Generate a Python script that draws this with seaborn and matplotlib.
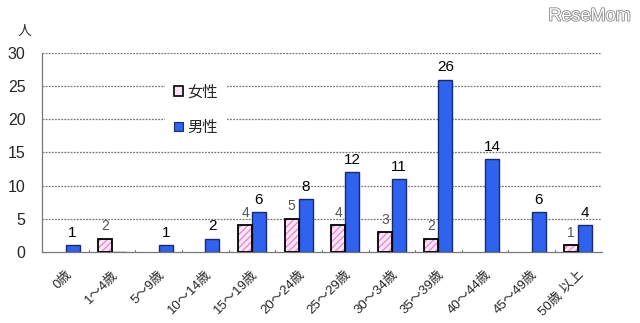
import matplotlib
matplotlib.use("Agg")
import matplotlib.pyplot as plt
import matplotlib.patheffects as pe
import seaborn as sns
import pandas as pd
from matplotlib.patches import Patch, Rectangle

categories = ["0歳", "1～4歳", "5～9歳", "10～14歳", "15～19歳", "20～24歳",
              "25～29歳", "30～34歳", "35～39歳", "40～44歳", "45～49歳", "50歳 以上"]
female = [0, 2, 0, 0, 4, 5, 4, 3, 2, 0, 0, 1]
male = [1, 0, 1, 2, 6, 8, 12, 11, 26, 14, 6, 4]
series = ["女性", "男性"]
yticks = [0, 5, 10, 15, 20, 25, 30]

sns.set_theme(style="white")
plt.rcParams['font.family'] = ['Liberation Sans', 'Noto Sans CJK JP', 'DejaVu Sans']

df = pd.DataFrame({
    "cat": categories * 2,
    "sex": [series[0]] * len(categories) + [series[1]] * len(categories),
    "val": female + male,
})

BLUE = "#2f62ee"
PINK = "#fce6f6"
HATCH = "#e88ad2"

fig = plt.figure(figsize=(6.4, 3.23), dpi=100)
ax = fig.add_axes([0.066, 0.22, 0.874, 0.616])

sns.barplot(data=df, x="cat", y="val", hue="sex", order=categories,
            hue_order=series, palette={series[0]: PINK, series[1]: BLUE},
            width=0.6, ax=ax, legend=False, saturation=1, errorbar=None)

cont_f, cont_m = ax.containers[0], ax.containers[1]
for p in cont_f.patches:
    p.set_hatch("/////")
    p.set_edgecolor(HATCH)
    p.set_linewidth(0)
    if p.get_height() > 0:
        ax.add_patch(Rectangle((p.get_x(), p.get_y()), p.get_width(), p.get_height(),
                               fill=False, edgecolor="black", linewidth=1.3, zorder=3))
for p in cont_m.patches:
    p.set_edgecolor("#1a2a6a")
    p.set_linewidth(1.0)

for p, v in zip(cont_f.patches, female):
    if v > 0:
        ax.text(p.get_x() + p.get_width() / 2, v + 0.8, str(v), ha="center", va="bottom",
                fontsize=10, color="#555555")
for p, v in zip(cont_m.patches, male):
    if v > 0:
        ax.text(p.get_x() + p.get_width() / 2, v + 0.8, str(v), ha="center", va="bottom",
                fontsize=11, color="black")

ax.set_ylim(0, 30)
ax.set_xlim(-0.5, len(categories) - 0.5)
ax.set_yticks(yticks)
ax.set_yticklabels([str(t) for t in yticks], fontsize=11.5)
ax.tick_params(axis="y", length=0, pad=12)
ax.set_xticks(range(len(categories)))
ax.set_xticklabels(categories, rotation=45, ha="right", rotation_mode="anchor", fontsize=9.5)
ax.tick_params(axis="x", length=0, pad=12)
for b in [i + 0.5 for i in range(len(categories))]:
    ax.plot([b, b], [0, 0.35], color="#777777", lw=0.8, zorder=1)
ax.set_xlabel("")
ax.set_ylabel("")

for t in yticks[1:]:
    ax.axhline(t, color="#777777", lw=0.9, ls=(0, (1.5, 1)), zorder=0)

for s in ["top", "right"]:
    ax.spines[s].set_visible(False)
for s in ["left", "bottom"]:
    ax.spines[s].set_color("#777777")
    ax.spines[s].set_linewidth(0.9)

handles = [Patch(facecolor=PINK, edgecolor="black", linewidth=1.2),
           Patch(facecolor=BLUE, edgecolor="#1a2a6a", linewidth=0.8)]
leg = ax.legend(handles, series, loc="center", bbox_to_anchor=(0.275, 0.715),
                frameon=True, fontsize=11, handlelength=0.6, handleheight=0.6,
                handletextpad=0.3, labelspacing=1.2, borderpad=0.6, borderaxespad=0,
                prop={"family": ["Noto Sans CJK JP"], "size": 11})
leg.get_frame().set_edgecolor("none")
leg.get_frame().set_facecolor("white")
leg.get_frame().set_alpha(1)
leg.set_zorder(5)

fig.text(0.027, 0.905, "人", fontsize=10, color="#333333", ha="left", va="center",
         family=["Noto Sans CJK JP"])
wm = fig.text(0.985, 0.95, "ReseMom", fontsize=13, color="white", ha="right", va="center")
wm.set_path_effects([pe.withStroke(linewidth=1.2, foreground="#888888")])

fig.savefig("out.png", dpi=100)
